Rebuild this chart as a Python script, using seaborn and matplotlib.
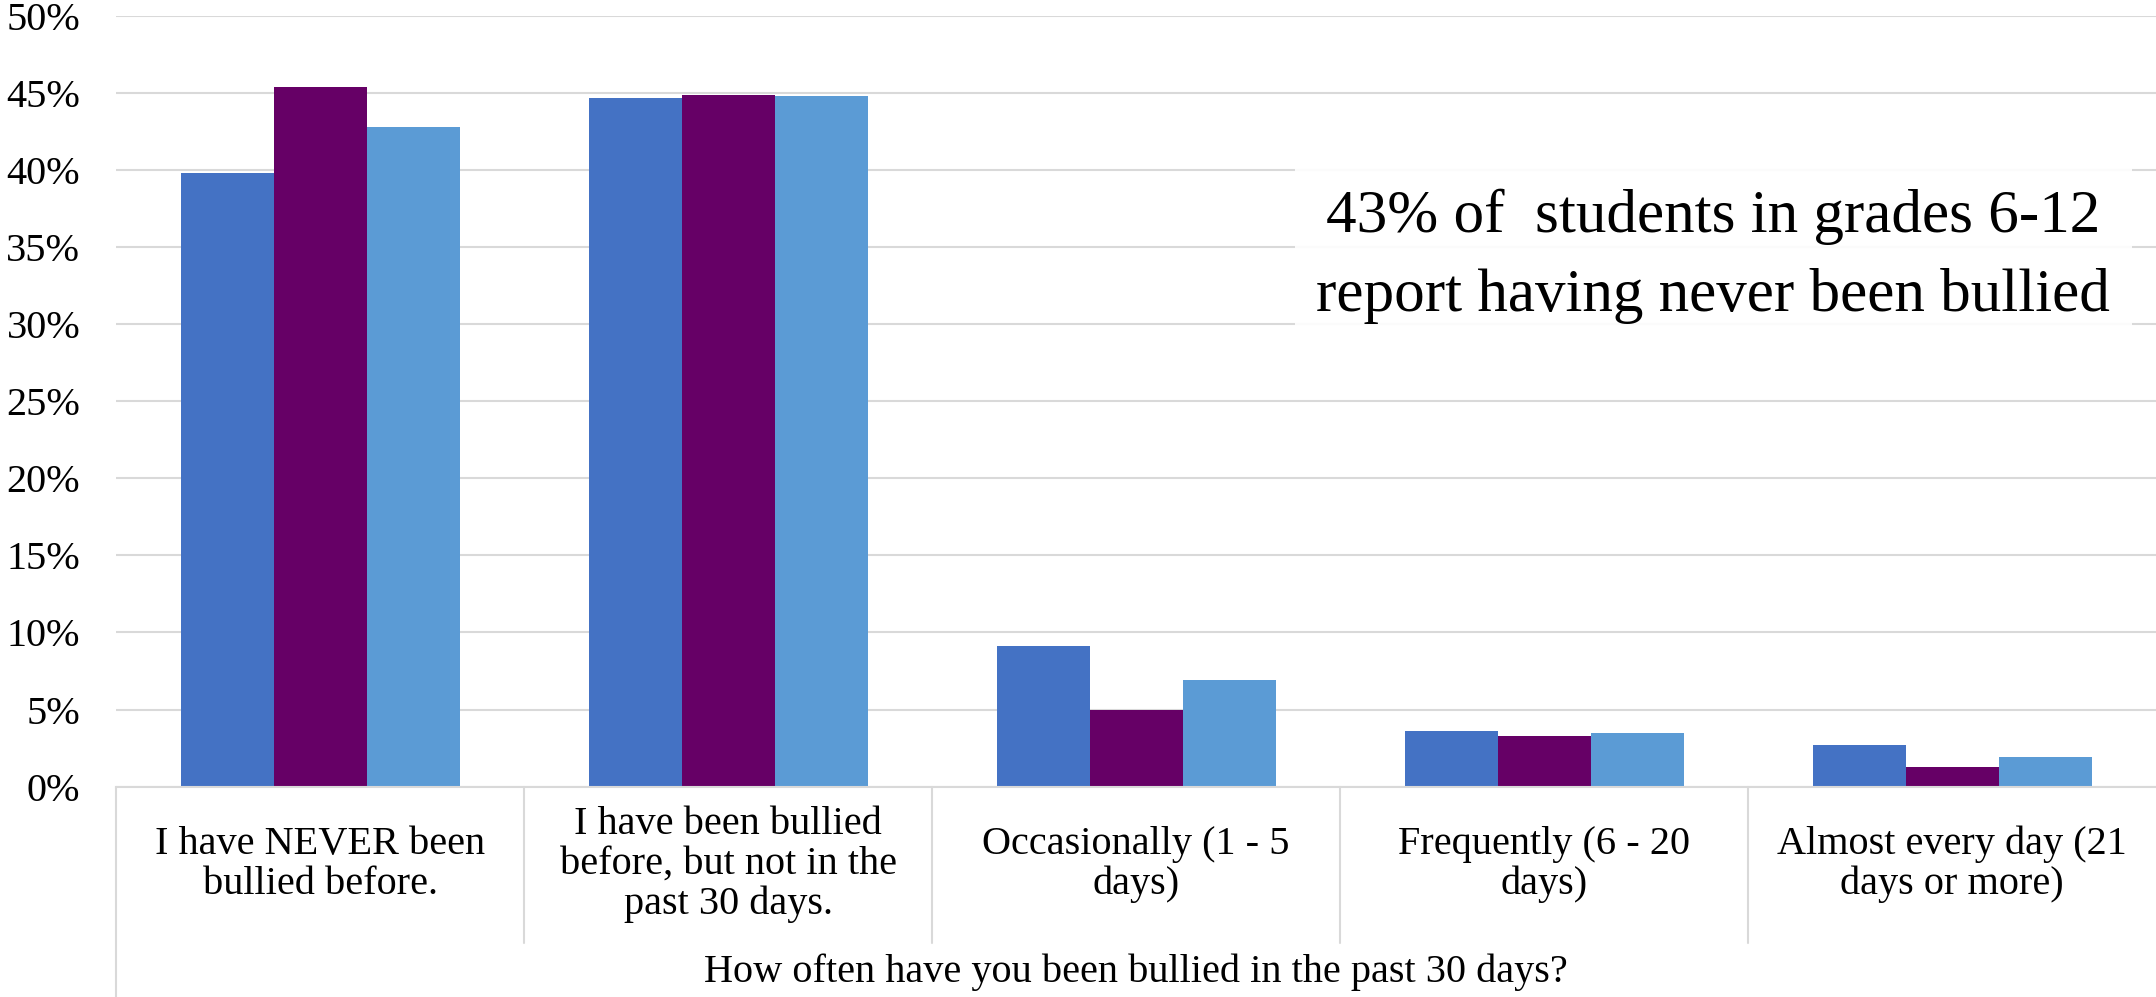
import pandas as pd
import numpy as np
import seaborn as sns
import matplotlib.pyplot as plt
import matplotlib.transforms as mtransforms

# categories and series
categories = [
    "I have NEVER been\nbullied before.",
    "I have been bullied\nbefore, but not in the\npast 30 days.",
    "Occasionally (1 - 5\ndays)",
    "Frequently (6 - 20\ndays)",
    "Almost every day (21\ndays or more)",
]
series_names = ["Series 1", "Series 2", "Series 3"]
series_1 = [39.8, 44.7, 9.1, 3.6, 2.7]
series_2 = [45.4, 44.9, 5.0, 3.3, 1.3]
series_3 = [42.8, 44.8, 6.9, 3.5, 1.9]
colors = ["#4472C4", "#660066", "#5B9BD5"]
y_ticks = [0, 5, 10, 15, 20, 25, 30, 35, 40, 45, 50]
axis_title = "How often have you been bullied in the past 30 days?"
note = "43% of  students in grades 6-12\nreport having never been bullied"

FONT = ["Liberation Serif", "DejaVu Serif"]

df = pd.DataFrame({
    "Category": categories * 3,
    "Series": np.repeat(series_names, len(categories)),
    "Value": series_1 + series_2 + series_3,
})

sns.set_theme(style="white")
plt.rcParams["font.family"] = FONT

fig = plt.figure(figsize=(21.56, 9.97), dpi=100)
ax = fig.add_axes([0.054, 0.211, 0.946, 0.773])

sns.barplot(data=df, x="Category", y="Value", hue="Series", palette=colors,
            width=0.684, saturation=1, legend=False, linewidth=0,
            ax=ax, zorder=2)

ax.set_xlim(-0.5, 4.5)
ax.set_ylim(0, 50)
ax.set_yticks(y_ticks, labels=[f"{v}%" for v in y_ticks],
              fontfamily=FONT, fontsize=29, color="black")
ax.set_xticks(range(len(categories)), labels=categories,
              fontfamily=FONT, fontsize=29, color="black",
              va="center", linespacing=1.1)
ax.grid(axis="y", color="#D9D9D9", linewidth=1.5, zorder=0)
ax.set_axisbelow(True)
ax.set_xlabel("")
ax.set_ylabel("")

for side in ["left", "right", "top"]:
    ax.spines[side].set_visible(False)
ax.spines["bottom"].set_color("#D9D9D9")
ax.spines["bottom"].set_linewidth(1.5)

ax.tick_params(axis="y", length=0, pad=26)
ax.tick_params(axis="x", length=0, pad=56)

# category boxes below the axis
trans = mtransforms.blended_transform_factory(ax.transData, ax.transAxes)
for xb in [0.5, 1.5, 2.5, 3.5]:
    ax.plot([xb, xb], [0, -0.203], transform=trans, color="#D9D9D9",
            linewidth=1.5, clip_on=False)
ax.plot([-0.5, -0.5], [0, -0.28], transform=trans, color="#D9D9D9",
        linewidth=1.5, clip_on=False)

ax.text(0.5, -0.241, axis_title, transform=ax.transAxes, ha="center",
        va="center", fontsize=29, family=FONT, color="black")

ax.text(3.415, 34.4, note, ha="center", va="center", fontsize=44,
        linespacing=1.55, zorder=3, family=FONT, color="black",
        bbox=dict(boxstyle="square,pad=0.35", facecolor="white",
                  edgecolor="none", alpha=0.9))

fig.savefig("out.png", dpi=100)
